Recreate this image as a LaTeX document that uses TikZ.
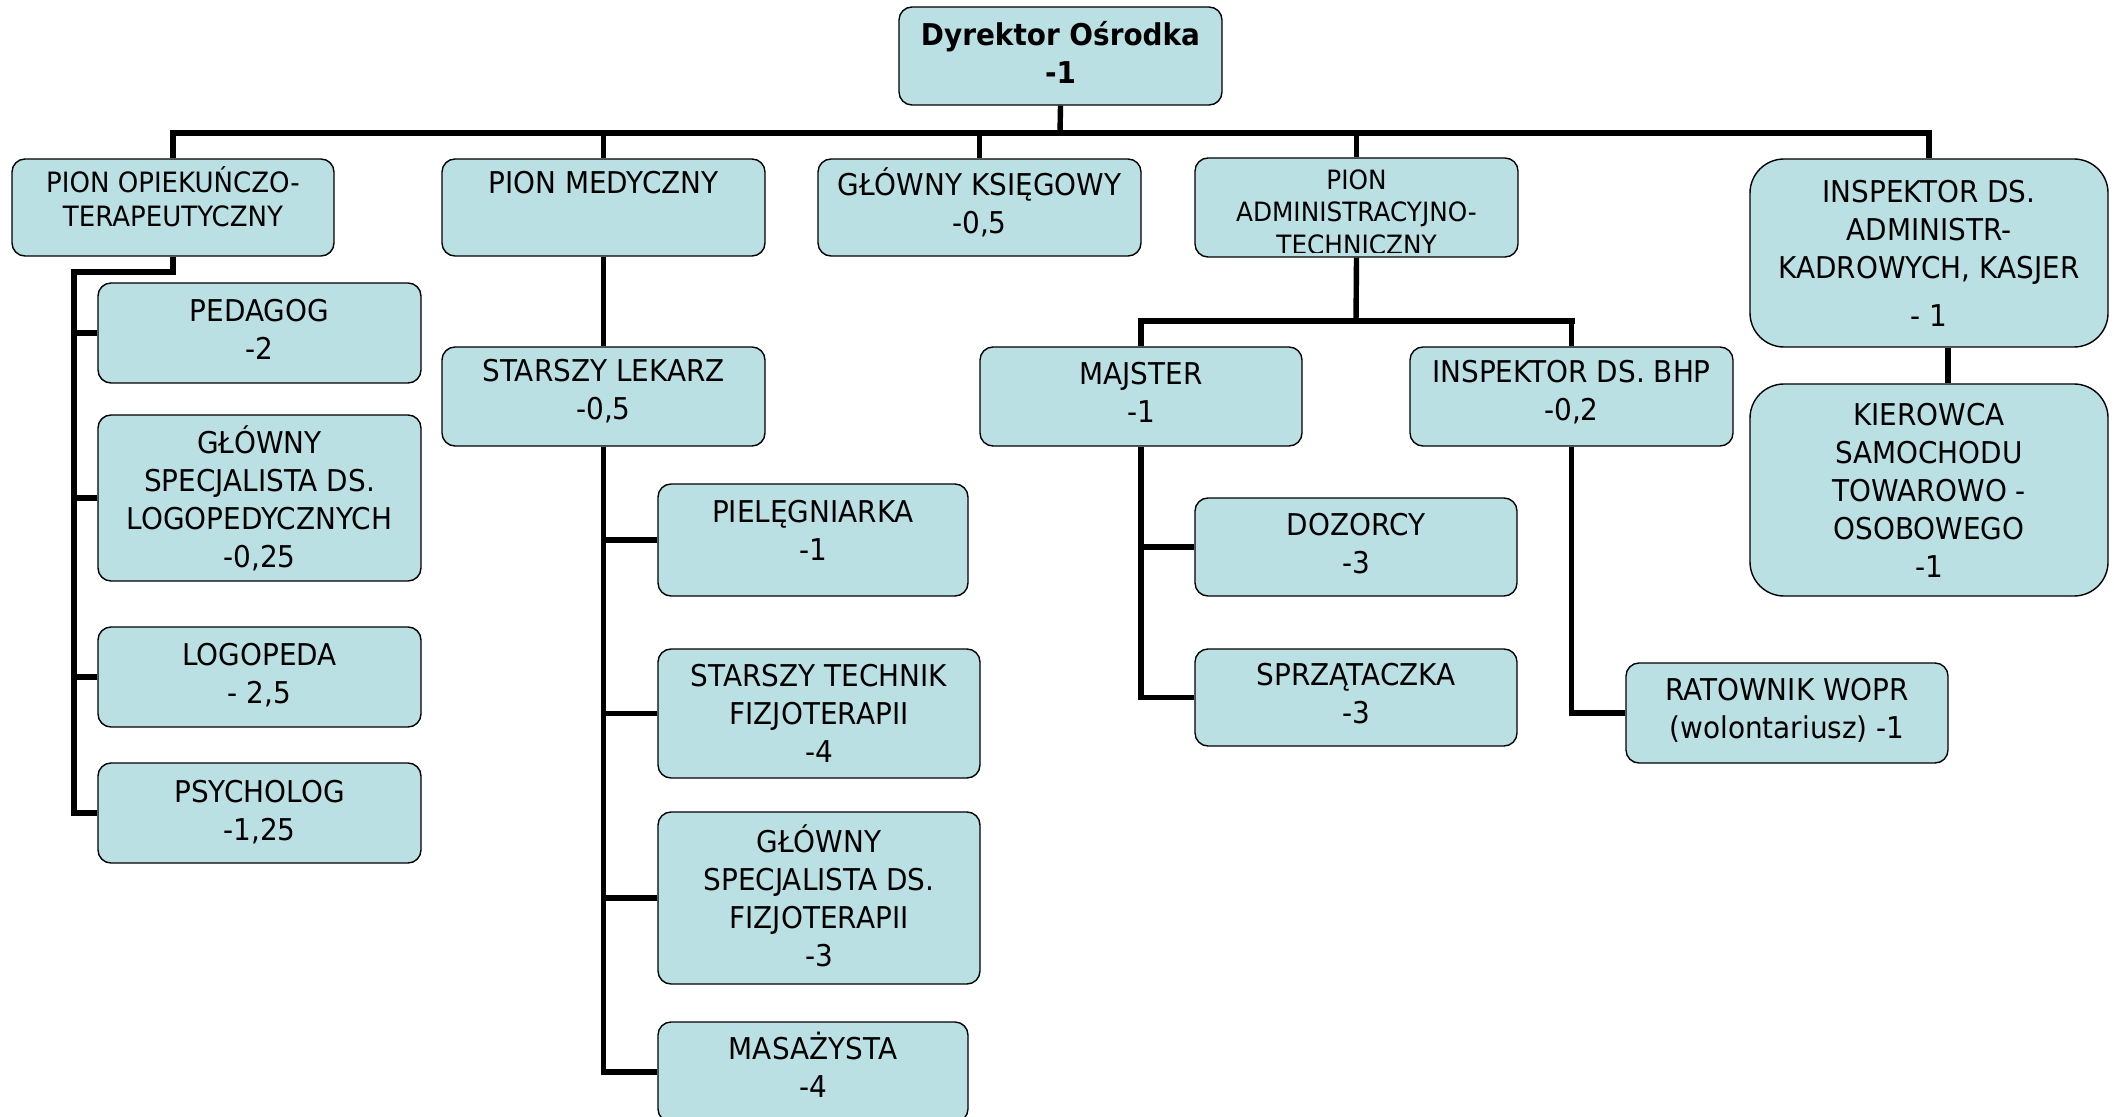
\documentclass[tikz,border=0pt]{standalone}
\usepackage{fontspec}
\setmainfont{DejaVu Sans}[FakeStretch=0.93]
\definecolor{boxfill}{RGB}{187,224,227}
\begin{document}
\begin{tikzpicture}[x=0.5pt,y=-0.5pt,
  box/.style={draw=black, line width=0.7pt, fill=boxfill, rounded corners=6.5pt,
    align=center, inner sep=0pt, font=\fontsize{15}{19}\selectfont},
  bigbox/.style={box, rounded corners=17pt},
  sz/.style 2 args={minimum width=#1, minimum height=#2},
  up/.style={execute at end node={\rule[-#1]{0pt}{0pt}}},
  conn/.style={line width=2.7pt},
  busline/.style={line width=3.1pt, line cap=rect},
  smalltxt/.style={anchor=base, inner sep=0pt, font=\fontsize{13.3}{16}\selectfont}]
\useasboundingbox (0,0) rectangle (2114,1117);

% level 0
\node[box, sz={161.5pt}{49pt}, up=4pt, font=\fontsize{15}{19}\selectfont\bfseries] (dir) at (1060.5,56) {Dyrektor Ośrodka\\-1};

% level 1
\node[box, sz={161pt}{48.5pt}, up=11pt, font=\fontsize{14}{17}\selectfont] (po) at (173,207.5) {PION OPIEKUŃCZO-\\TERAPEUTYCZNY};
\node[box, sz={161.5pt}{48.5pt}] (pm) at (603.5,207.5) {PION MEDYCZNY\\\strut};
\node[box, sz={161.5pt}{48.5pt}, up=7pt] (gk) at (979.5,207.5) {GŁÓWNY KSIĘGOWY\\-0,5};
\node[box, sz={161.5pt}{49.5pt}] (pa) at (1356.5,207.5) {};
\begin{scope}
  \clip[rounded corners=6.5pt] ([yshift=2.5pt]pa.south west) rectangle (pa.north east);
  \node[smalltxt] (pa1) at (1356.5,190) {PION};
  \node[smalltxt] (pa2) at (1356.5,222) {ADMINISTRACYJNO-};
  \node[smalltxt] (pa3) at (1356.5,255) {TECHNICZNY};
\end{scope}
\node[bigbox, sz={179pt}{94pt}] (ia) at (1929,253) {INSPEKTOR DS.\\ADMINISTR-\\KADROWYCH, KASJER\\[5pt]- 1};
\node[bigbox, sz={179pt}{106pt}] (kier) at (1929,490) {KIEROWCA\\SAMOCHODU\\TOWAROWO -\\OSOBOWEGO\\-1};

% pion opiekunczo-terapeutyczny
\node[box, sz={161.5pt}{50pt}, up=4pt] (ped) at (259.5,333) {PEDAGOG\\-2};
\node[box, sz={161.5pt}{83pt}] (gsl) at (259.5,498) {GŁÓWNY\\SPECJALISTA DS.\\LOGOPEDYCZNYCH\\-0,25};
\node[box, sz={161.5pt}{50pt}, up=4pt] (log) at (259.5,677) {LOGOPEDA\\- 2,5};
\node[box, sz={161.5pt}{50pt}, up=3pt] (psy) at (259.5,813) {PSYCHOLOG\\-1,25};

% pion medyczny
\node[box, sz={161.5pt}{49.5pt}, up=7pt] (sl) at (603.5,396.5) {STARSZY LEKARZ\\-0,5};
\node[box, sz={155pt}{56pt}, up=9.5pt] (piel) at (813,540) {PIELĘGNIARKA\\-1};
\node[box, sz={161pt}{64.5pt}] (stech) at (819,713.5) {STARSZY TECHNIK\\FIZJOTERAPII\\-4};
\node[box, sz={161pt}{86pt}, up=2pt] (gsf) at (819,898) {GŁÓWNY\\SPECJALISTA DS.\\FIZJOTERAPII\\-3};
\node[box, sz={155pt}{50pt}, up=7pt] (mas) at (813,1072) {MASAŻYSTA\\-4};

% pion administracyjno-techniczny
\node[box, sz={161pt}{49.5pt}, up=4pt] (maj) at (1141,396.5) {MAJSTER\\-1};
\node[box, sz={161.5pt}{49.5pt}, up=6pt] (bhp) at (1571.5,396.5) {INSPEKTOR DS. BHP\\-0,2};
\node[box, sz={161pt}{49pt}, up=3.5pt] (doz) at (1356,547) {DOZORCY\\-3};
\node[box, sz={161pt}{48.5pt}, up=4pt] (sprz) at (1356,697.5) {SPRZĄTACZKA\\-3};
\node[box, sz={161pt}{50pt}, up=5pt] (rat) at (1787,713) {RATOWNIK WOPR\\(wolontariusz) -1};

% connectors
\coordinate (bus) at (1060,133);
\coordinate (poT) at (74,272);
\coordinate (paJ) at (1356,321);

\draw[conn] (dir.south) -- (bus);
\draw[busline] (po.north |- bus) -- (ia.north |- bus);
\foreach \n in {po,pm,gk,pa,ia} \draw[conn] (\n.north |- bus) -- (\n.north);

\draw[conn] (po.south) |- (poT) |- (psy.west);
\foreach \n in {ped,gsl,log} \draw[conn] (\n.west) -- (\n.west -| poT);

\draw[conn] (pm.south) -- (sl.north);
\draw[conn] (sl.south) |- (mas.west);
\foreach \n in {piel,stech,gsf} \draw[conn] (\n.west) -- (\n.west -| sl.south);

\draw[conn] (pa.south) -- (paJ);
\draw[busline] (maj.north |- paJ) -- (bhp.north |- paJ);
\draw[conn] (maj.north |- paJ) -- (maj.north);
\draw[conn] (bhp.north |- paJ) -- (bhp.north);
\draw[conn] (maj.south) |- (sprz.west);
\draw[conn] (doz.west) -- (doz.west -| maj.south);
\draw[conn] (bhp.south) |- (rat.west);

\draw[conn] ([xshift=9.5pt]ia.south) -- ([xshift=9.5pt]ia.south |- kier.north);
\end{tikzpicture}
\end{document}
